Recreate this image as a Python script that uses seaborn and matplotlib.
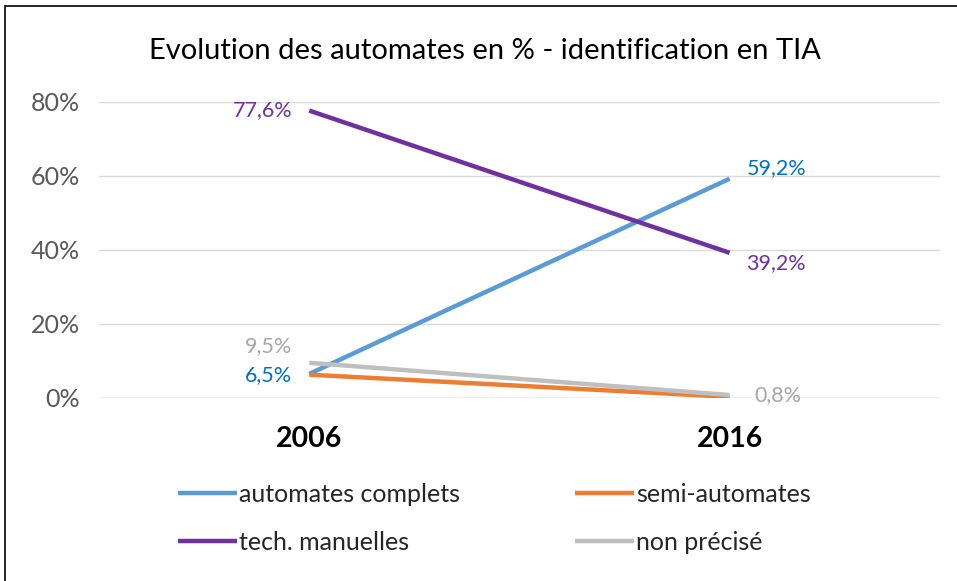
import matplotlib
matplotlib.use("Agg")
import matplotlib.pyplot as plt
import seaborn as sns
import pandas as pd
from matplotlib.patches import Rectangle

years = ["2006", "2016"]
series = ["automates complets", "semi-automates", "tech. manuelles", "non précisé"]
automates_complets = [6.5, 59.2]
semi_automates = [6.3, 0.3]
tech_manuelles = [77.6, 39.2]
non_precise = [9.5, 0.8]
yticks = [0, 20, 40, 60, 80]

colors = ["#5B9BD5", "#ED7D31", "#7030A0", "#BFBFBF"]
label_colors = {"automates complets": "#0070C0", "tech. manuelles": "#7030A0", "non précisé": "#A6A6A6"}

values = [automates_complets, semi_automates, tech_manuelles, non_precise]
rows = []
for s, v in zip(series, values):
    for i, y in enumerate(years):
        rows.append({"year": i, "serie": s, "value": v[i]})
df = pd.DataFrame(rows)

sns.set_theme(style="white")
plt.rcParams["font.family"] = ["Lato", "DejaVu Sans"]

fig = plt.figure(figsize=(9.57, 5.81), dpi=100)
ax = fig.add_axes([0.1035, 0.315, 0.8785, 0.51])
sns.lineplot(data=df, x="year", y="value", hue="serie", hue_order=series,
             palette=colors, linewidth=3.2, ax=ax, legend=True, solid_capstyle="butt")

ax.set_xlim(-0.5, 1.5)
ax.set_ylim(0, 80)
ax.set_yticks(yticks)
ax.set_yticklabels([f"{t}%" for t in yticks], fontsize=18, color="#595959")
ax.set_xticks([0, 1])
ax.set_xticklabels(years, fontsize=20.5, fontweight="bold", color="black")
ax.tick_params(axis="x", pad=20, length=0)
ax.tick_params(axis="y", pad=14, length=0)
ax.set_xlabel("")
ax.set_ylabel("")
ax.grid(axis="y", color="#D9D9D9", linewidth=1)
ax.set_axisbelow(True)
for sp in ax.spines.values():
    sp.set_visible(False)
ax.axhline(0, color="#D9D9D9", linewidth=1, zorder=0)

def fmt(v):
    return f"{v:.1f}%".replace(".", ",")

fs = 15.5
ax.text(-0.04, tech_manuelles[0], fmt(tech_manuelles[0]), color=label_colors["tech. manuelles"], fontsize=fs, ha="right", va="center")
ax.text(1.04, tech_manuelles[1] - 2.8, fmt(tech_manuelles[1]), color=label_colors["tech. manuelles"], fontsize=fs, ha="left", va="center")
ax.text(1.04, automates_complets[1] + 2.8, fmt(automates_complets[1]), color=label_colors["automates complets"], fontsize=fs, ha="left", va="center")
ax.text(-0.04, automates_complets[0] - 0.2, fmt(automates_complets[0]), color=label_colors["automates complets"], fontsize=fs, ha="right", va="center")
ax.text(-0.04, non_precise[0] + 4.5, fmt(non_precise[0]), color=label_colors["non précisé"], fontsize=fs, ha="right", va="center")
ax.text(1.06, non_precise[1], fmt(non_precise[1]), color=label_colors["non précisé"], fontsize=fs, ha="left", va="center")

handles, labels = ax.get_legend_handles_labels()
ax.legend_.remove()
order = [0, 2, 1, 3]
leg = fig.legend([handles[i] for i in order], [labels[i] for i in order],
                 loc="upper left", bbox_to_anchor=(0.163, 0.208), ncol=2,
                 frameon=False, fontsize=18, handlelength=2.35, handletextpad=0.08,
                 columnspacing=4.6, labelspacing=1.0)
for h in leg.get_lines():
    h.set_linewidth(3.2)

fig.suptitle("Evolution des automates en % - identification en TIA", x=0.507, y=0.935,
             fontsize=21, color="black")

fig.patches.append(Rectangle((0.005, -0.01), 1.0, 1.0, transform=fig.transFigure,
                             fill=False, edgecolor="black", linewidth=1.2))

fig.savefig("out.png", dpi=100)
